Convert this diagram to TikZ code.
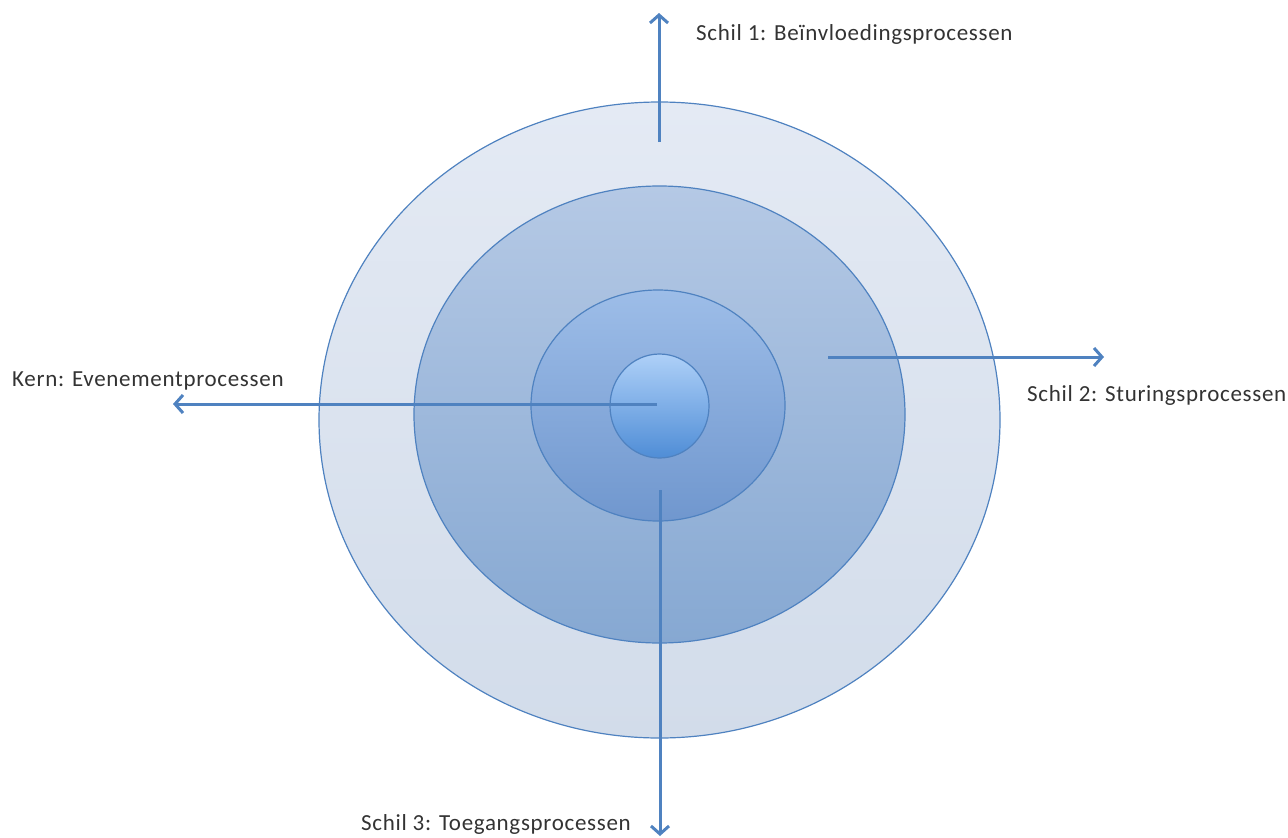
\documentclass[tikz,border=0pt]{standalone}
\usepackage{fontspec}
\setmainfont{Carlito}[LetterSpace=3]
\usetikzlibrary{arrows.meta,shapes.geometric}

\definecolor{lijn}{HTML}{4F82C0}
\definecolor{buitenA}{HTML}{E4EAF4}
\definecolor{buitenB}{HTML}{D2DCEA}
\definecolor{middenA}{HTML}{B5C9E5}
\definecolor{middenB}{HTML}{86A8D2}
\definecolor{binnenA}{HTML}{9DBDE8}
\definecolor{binnenB}{HTML}{7097CE}
\definecolor{kernA}{HTML}{AED0F8}
\definecolor{kernB}{HTML}{4F8DD6}

\begin{document}
\begin{tikzpicture}[x=1pt,y=-1pt,
    schil/.style={ellipse, draw=lijn, line width=1.2pt, inner sep=0pt},
    pijl/.style={draw=lijn, line width=3pt, -{Straight Barb[length=8pt,width=18pt]}},
    tekst/.style={anchor=base west, inner sep=0pt, text=black!80,
                  font=\fontsize{23}{27}\selectfont}]

    % Kader
    \useasboundingbox (0,0) rectangle (1288,838);

    % Schillen, van buiten naar binnen
    \node[schil, minimum width=681pt, minimum height=636pt,
          top color=buitenA, bottom color=buitenB] (schil1) at (659.5,420) {};
    \node[schil, minimum width=491pt, minimum height=457pt,
          top color=middenA, bottom color=middenB] (schil2) at (659.5,414.5) {};
    \node[schil, minimum width=254pt, minimum height=231pt,
          top color=binnenA, bottom color=binnenB] (schil3) at (658,405.5) {};
    \node[schil, minimum width=99pt, minimum height=104pt,
          top color=kernA, bottom color=kernB] (kern) at (659.5,406) {};

    % Begin- en eindpunten van de pijlen
    \coordinate (bovenvan) at (659,142);
    \coordinate (boven)    at (659,13);
    \coordinate (rechtsvan) at (828,357);
    \coordinate (rechts)    at (1104,357);
    \coordinate (linksvan) at (657,404);
    \coordinate (links)    at (173,404);
    \coordinate (ondervan) at (660,490);
    \coordinate (onder)    at (660,836);

    % Pijlen
    \draw[pijl] (bovenvan) -- (boven);
    \draw[pijl] (rechtsvan) -- (rechts);
    \draw[pijl] (linksvan) -- (links);
    \draw[pijl] (ondervan) -- (onder);

    % Teksten
    \node[tekst] (tschil1) at (696,40.5) {Schil 1: Beïnvloedingsprocessen};
    \node[tekst] (tschil2) at (1027,401.5) {Schil 2: Sturingsprocessen};
    \node[tekst] (tkern)   at (12,386) {Kern: Evenementprocessen};
    \node[tekst] (tschil3) at (361,830) {Schil 3: Toegangsprocessen};
\end{tikzpicture}
\end{document}
